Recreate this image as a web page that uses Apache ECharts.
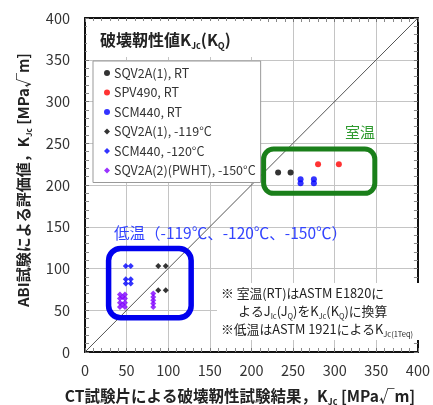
<!DOCTYPE html>
<html><head><meta charset="utf-8">
<script src="https://cdn.jsdelivr.net/npm/echarts@6/dist/echarts.min.js"></script>
<style>html,body{margin:0;padding:0;background:#fff}#c{width:433px;height:405px}</style>
</head><body><div id="c"></div>
<script>
// ---- data (MPa√m) ----
const xTickValues = [0, 50, 100, 150, 200, 250, 300, 350, 400];
const yTickValues = [0, 50, 100, 150, 200, 250, 300, 350, 400];
const seriesNames = ['SQV2A(1), RT', 'SPV490, RT', 'SCM440, RT', 'SQV2A(1), -119°C', 'SCM440, -120°C', 'SQV2A(2)(PWHT), -150°C'];
const sqv2a1RT_x = [232, 247];
const sqv2a1RT_y = [215, 215];
const spv490RT_x = [280, 305];
const spv490RT_y = [225, 225];
const scm440RT_x = [259, 259, 275, 275];
const scm440RT_y = [207, 202, 207, 202];
const sqv2a1LT_x = [88, 97, 88, 97];
const sqv2a1LT_y = [103, 103, 74, 74];
const scm440LT_x = [49, 55, 49, 55, 49, 55];
const scm440LT_y = [103, 103, 87, 87, 82, 82];
const sqv2a2LT_x = [42, 48, 42, 48, 42, 48, 42, 48, 45, 45, 82, 82, 82, 82, 82];
const sqv2a2LT_y = [69, 69, 64, 64, 59, 59, 54, 54, 66, 57, 70, 66, 62, 58, 54];
const diagonal_x = [0, 400];
const diagonal_y = [0, 400];

const zip = (xs, ys) => xs.map((x, i) => [x, ys[i]]);
const FONT = '"Noto Sans CJK JP", "Noto Sans", sans-serif';

const G = {left: 85, top: 18, width: 337, height: 334};
const px = v => G.left + v / 400 * G.width;
const py = v => G.top + G.height - v / 400 * G.height;

const chart = echarts.init(document.getElementById('c'), null, {renderer: 'canvas'});

function baseAxis(pos, show) {
  return {
    type: 'value', min: 0, max: 400, interval: 50, position: pos,
    axisLine: {show: true, onZero: false, lineStyle: {color: '#111', width: 2}},
    axisTick: {show: true, inside: true, length: 4, lineStyle: {color: '#777'}},
    minorTick: {show: true, splitNumber: 5, length: 4, lineStyle: {color: '#888'}},
    splitLine: {show: show, lineStyle: {color: '#c4c4c4', width: 1}},
    axisLabel: {show: show, fontSize: 14.5, color: '#333', fontFamily: FONT, margin: show ? (pos === 'bottom' ? 11 : 15) : 0}
  };
}
const xb = baseAxis('bottom', true);
const xt = baseAxis('top', false);
const yl = baseAxis('left', true);
const yr = baseAxis('right', false);

const mk = (name, xs, ys, color, symbol, size) => ({
  name, type: 'scatter', data: zip(xs, ys), symbol, symbolSize: size,
  itemStyle: {color}, z: 5
});

const boldRich = (f) => ({
  b: {fontSize: f, fontWeight: 'bold', fontFamily: FONT, fill: '#222', lineHeight: f + 4},
  s: {fontSize: Math.round(f * 0.55), fontWeight: 'bold', fontFamily: FONT, fill: '#222', verticalAlign: 'bottom', lineHeight: f + 2}
});

const option = {
  animation: false,
  grid: {left: G.left, top: G.top, width: G.width, height: G.height, containLabel: false},
  xAxis: [xb, xt],
  yAxis: [yl, yr],
  legend: {
    left: 93, top: 61, orient: 'vertical',
    backgroundColor: '#fff', borderColor: '#999', borderWidth: 1,
    padding: [5, 5, 5, 11], itemGap: 5.5, itemWidth: 6, itemHeight: 6,
    textStyle: {fontSize: 12.5, color: '#333', fontFamily: FONT, lineHeight: 14, padding: [0, 0, 0, -1]},
    data: seriesNames.map((n, i) => ({name: n, icon: i < 3 ? 'circle' : 'diamond'}))
  },
  series: [
    {type: 'line', data: zip(diagonal_x, diagonal_y), symbol: 'none', lineStyle: {color: '#555', width: 1}, z: 2, silent: true},
    mk(seriesNames[0], sqv2a1RT_x, sqv2a1RT_y, '#000000', 'circle', 6),
    mk(seriesNames[1], spv490RT_x, spv490RT_y, '#ff0000', 'circle', 6),
    mk(seriesNames[2], scm440RT_x, scm440RT_y, '#0000ff', 'circle', 6),
    mk(seriesNames[3], sqv2a1LT_x, sqv2a1LT_y, '#000000', 'diamond', 6),
    mk(seriesNames[4], scm440LT_x, scm440LT_y, '#0000ff', 'diamond', 6),
    mk(seriesNames[5], sqv2a2LT_x, sqv2a2LT_y, '#7f00ff', 'diamond', 6)
  ],
  graphic: [
    {type: 'rect', shape: {x: 87, y: 21, width: 178, height: 36}, style: {fill: '#fff'}, z: 10},
    {type: 'text', x: 100, y: 40, z: 11, style: {
      text: '{b|破壊靭性値K}{s|Jc}{b|(K}{s|Q}{b|)}', verticalAlign: 'middle', rich: boldRich(16)
    }},
    {type: 'rect', shape: {x: px(212), y: py(243), width: px(344) - px(212), height: py(190) - py(243), r: 10},
     style: {fill: 'none', stroke: '#1a7f1a', lineWidth: 5}, z: 8},
    {type: 'text', x: 360, y: 132, z: 11, style: {text: '室温', fill: '#2e9a2e', fontSize: 15, fontFamily: FONT, align: 'center', verticalAlign: 'middle'}},
    {type: 'rect', shape: {x: px(28), y: py(124), width: px(126) - px(28), height: py(41) - py(124), r: 12},
     style: {fill: 'none', stroke: '#0000ee', lineWidth: 5.5}, z: 8},
    {type: 'text', x: 114, y: 233, z: 11, style: {text: '低温（-119℃、-120℃、-150℃）', fill: '#3344ff', fontSize: 15.5, fontFamily: FONT, verticalAlign: 'middle'}},
    {type: 'rect', shape: {x: 217, y: 283, width: 202, height: 57}, style: {fill: '#fff'}, z: 10},
    {type: 'text', x: 221, y: 284, z: 11, style: {
      text: '{n|※ 室温(RT)はASTM E1820に}\n{n|      よるJ}{s|Ic}{n|(J}{s|Q}{n|)をK}{s|Jc}{n|(K}{s|Q}{n|)に換算}\n{n|※低温はASTM 1921によるK}{s|Jc(1Teq)}',
      rich: {n: {fontSize: 12.8, fontFamily: FONT, fill: '#222', lineHeight: 18},
             s: {fontSize: 7.5, fontFamily: FONT, fill: '#222', verticalAlign: 'bottom', lineHeight: 16}}
    }},
    {type: 'text', x: 240, y: 396, z: 11, style: {
      text: '{b|CT試験片による破壊靭性試験結果，K}{s|Jc}{b| [MPa√m]}', align: 'center', verticalAlign: 'middle', rich: boldRich(15.5)
    }},
    {type: 'text', x: 23, y: 180, rotation: Math.PI / 2, z: 11, style: {
      text: '{b|ABI試験による評価値，K}{s|Jc}{b| [MPa√m]}', align: 'center', verticalAlign: 'middle', rich: boldRich(15)
    }}
  ]
};
chart.setOption(option);
</script>
</body></html>
